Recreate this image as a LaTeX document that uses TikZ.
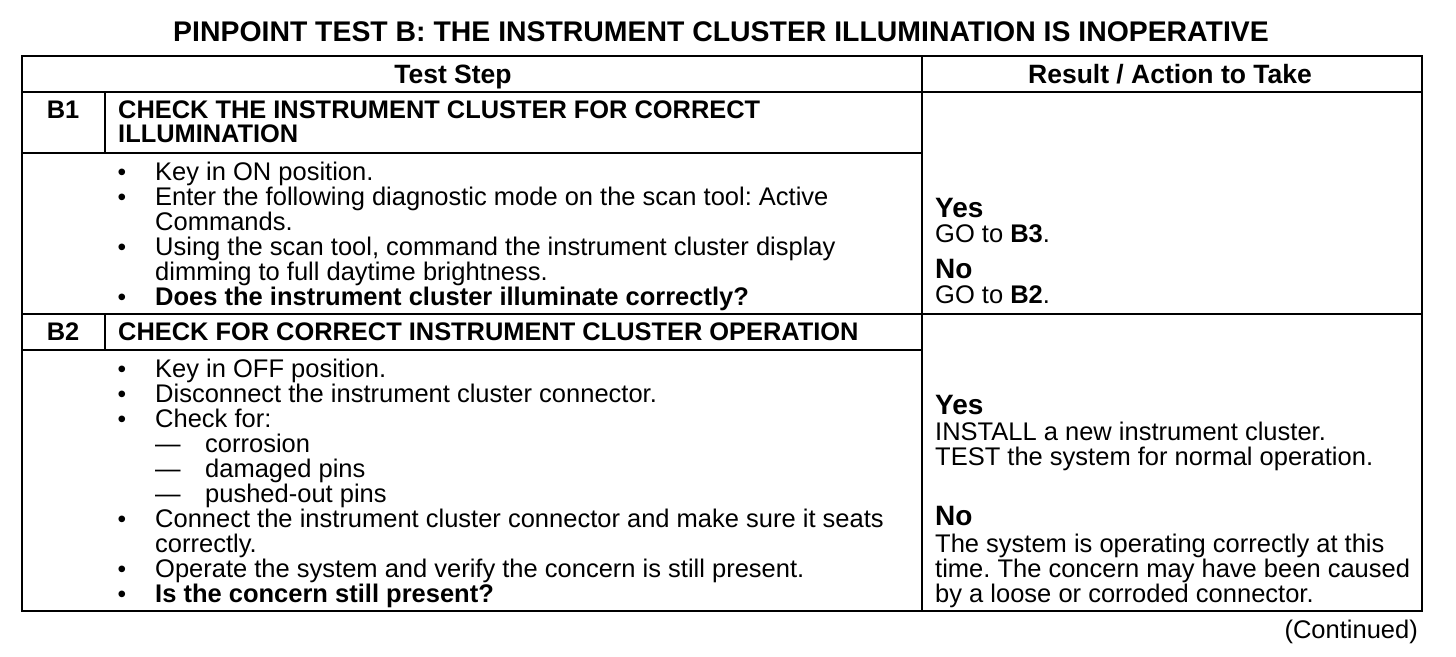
\documentclass[tikz,border=0pt]{standalone}
\usepackage{fontspec}
\setmainfont{Liberation Sans}
\usepackage{tikz}
\frenchspacing

\tikzset{
  txt/.style={anchor=base west,inner sep=0pt,font=\fontsize{25.5}{25}\selectfont},
  bold/.style={txt,font=\fontsize{25.4}{25}\selectfont\bfseries},
  head/.style={txt,anchor=base,font=\fontsize{26.5}{25}\selectfont\bfseries},
  yesno/.style={txt,font=\fontsize{28}{28}\selectfont\bfseries},
  dot/.style={txt,anchor=base,font=\fontsize{24.5}{24}\selectfont},
  rule/.style={line width=2pt}
}

\begin{document}
\begin{tikzpicture}[x=1pt,y=-1pt]
      \useasboundingbox (0,0) rectangle (1456,656);
      % title
      \node[head,font=\fontsize{28.4}{28}\selectfont\bfseries] (title) at (721,41)
        {PINPOINT TEST B: THE INSTRUMENT CLUSTER ILLUMINATION IS INOPERATIVE};
      % frame
      \draw[rule] (22,56) rectangle (1422,611);
      \draw[rule] (922,56) -- (922,611);
      \draw[rule] (22,92) -- (1422,92);
      \draw[rule] (22,153) -- (922,153);
      \draw[rule] (22,314) -- (1422,314);
      \draw[rule] (22,350) -- (922,350);
      \draw[rule] (105,92) -- (105,153);
      \draw[rule] (105,314) -- (105,350);
      % headers
      \node[head] (hstep) at (453,83) {Test Step};
      \node[head] (hres) at (1170,83) {Result / Action to Take};
      % B1
      \node[bold,anchor=base] (b1) at (63,118) {B1};
      \node[bold] (b1a) at (118,118) {CHECK THE INSTRUMENT CLUSTER FOR CORRECT};
      \node[bold] (b1b) at (118,142) {ILLUMINATION};
      \foreach \i/\y/\b/\ytext in {1/180/1/{Key in ON position.},
                                   2/205/1/{Enter the following diagnostic mode on the scan tool: Active},
                                   3/230/0/{Commands.},
                                   4/255/1/{Using the scan tool, command the instrument cluster display},
                                   5/280/0/{dimming to full daytime brightness.},
                                   6/305/1/{\bfseries Does the instrument cluster illuminate correctly?}}
      {
        \node[txt] (b1l\i) at (155,\y) {\ytext};
        \ifnum\b=1 \node[dot] (b1d\i) at (122,\y) {\textbullet}; \fi
      };
      \node[yesno] (b1yes) at (935,217) {Yes};
      \node[txt] (b1yt) at (935,242) {GO to \textbf{B3}.};
      \node[yesno] (b1no) at (935,278) {No};
      \node[txt] (b1nt) at (935,303) {GO to \textbf{B2}.};
      % B2
      \node[bold,anchor=base] (b2) at (63,340) {B2};
      \node[bold] (b2a) at (118,340) {CHECK FOR CORRECT INSTRUMENT CLUSTER OPERATION};
      \foreach \i/\y/\b/\ytext in {1/377/1/{Key in OFF position.},
                                   2/402/1/{Disconnect the instrument cluster connector.},
                                   3/427/1/{Check for:},
                                   4/452/2/{corrosion},
                                   5/477/2/{damaged pins},
                                   6/502/2/{pushed-out pins},
                                   7/527/1/{Connect the instrument cluster connector and make sure it seats},
                                   8/552/0/{correctly.},
                                   9/577/1/{Operate the system and verify the concern is still present.},
                                   10/602/1/{\bfseries Is the concern still present?}}
      {
        \ifnum\b=2
          \node[txt] (b2d\i) at (155,\y) {---};
          \node[txt] (b2l\i) at (205,\y) {\ytext};
        \else
          \node[txt] (b2l\i) at (155,\y) {\ytext};
          \ifnum\b=1 \node[dot] (b2d\i) at (122,\y) {\textbullet}; \fi
        \fi
      };
      \node[yesno] (b2yes) at (935,414) {Yes};
      \node[txt] (b2yt1) at (935,440) {INSTALL a new instrument cluster.};
      \node[txt] (b2yt2) at (935,465) {TEST the system for normal operation.};
      \node[yesno] (b2no) at (935,525) {No};
      \node[txt] (b2nt1) at (935,552) {The system is operating correctly at this};
      \node[txt] (b2nt2) at (935,577) {time. The concern may have been caused};
      \node[txt] (b2nt3) at (935,602) {by a loose or corroded connector.};
      % footer
      \node[txt,anchor=base east] (cont) at (1418,638) {(Continued)};
    \end{tikzpicture}
\end{document}
